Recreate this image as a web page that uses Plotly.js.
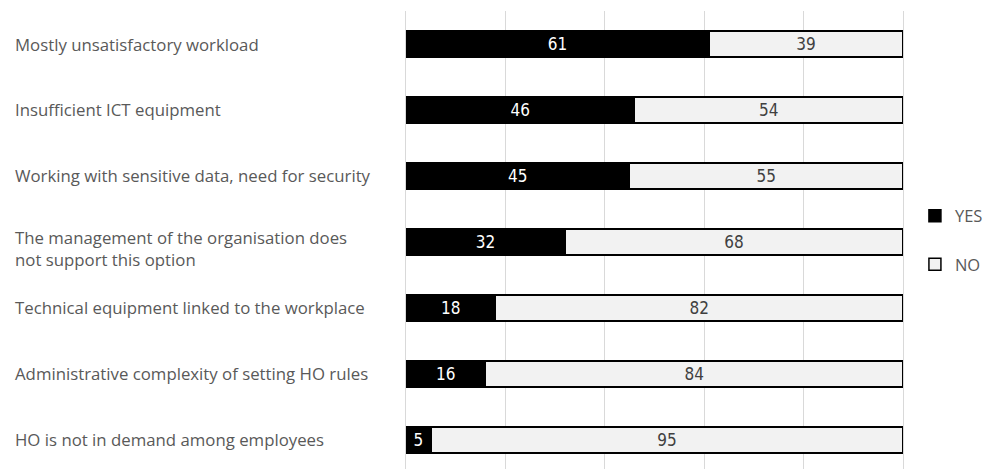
<!DOCTYPE html>
<html><head><meta charset="utf-8">
<script src="https://cdn.plot.ly/plotly-3.0.1.min.js"></script>
<style>body{margin:0;background:#fff}#c{width:988px;height:469px}</style>
</head><body><div id="c"></div>
<script>
const categories = [
  "Mostly unsatisfactory workload",
  "Insufficient ICT equipment",
  "Working with sensitive data, need for security",
  "The management of the organisation does<br>not support this option",
  "Technical equipment linked to the workplace",
  "Administrative complexity of setting HO rules",
  "HO is not in demand among employees"
];
const yesValues = [61, 46, 45, 32, 18, 16, 5];
const noValues = [39, 54, 55, 68, 82, 84, 95];
const seriesNames = ["YES", "NO"];

const barFont = "'DejaVu Sans Condensed','Roboto',sans-serif";
const labelFont = "'Open Sans','Noto Sans',sans-serif";

const traces = [
  {type:'bar', orientation:'h', name:seriesNames[0], y:categories, x:yesValues,
   text:yesValues.map(String), textposition:'inside', insidetextanchor:'middle',
   constraintext:'none', textfont:{color:'#ffffff', size:17, family:barFont},
   marker:{color:'#000000', line:{color:'#000000', width:1.5}},
   legendgroup:'a', hoverinfo:'none'},
  {type:'bar', orientation:'h', name:seriesNames[1], y:categories, x:noValues,
   text:noValues.map(String), textposition:'inside', insidetextanchor:'middle',
   constraintext:'none', textfont:{color:'#404040', size:17, family:barFont},
   marker:{color:'#f2f2f2', line:{color:'#000000', width:1.5}},
   legendgroup:'b', hoverinfo:'none'}
];

const annotations = categories.map(c => ({
  xref:'paper', yref:'y', x:-0.79, y:c, xanchor:'left', yanchor:'middle',
  yshift: c.indexOf('<br>') >= 0 ? -7 : 0,
  text:c, showarrow:false, align:'left',
  font:{family:labelFont, size:16.8, color:'#595959'}
}));

const layout = {
  width:988, height:469,
  margin:{l:406, r:83, t:11, b:0},
  paper_bgcolor:'#ffffff', plot_bgcolor:'#ffffff',
  barmode:'stack', bargap:0.6,
  xaxis:{range:[0,100], dtick:20, showgrid:true, gridcolor:'#d9d9d9', gridwidth:1,
         showticklabels:false, zeroline:false, showline:false, fixedrange:true},
  yaxis:{type:'category', range:[6.44,-0.5], showticklabels:false, showgrid:false,
         zeroline:false, showline:true, mirror:true, linecolor:'#d9d9d9', linewidth:1},
  showlegend:true,
  legend:{x:1.024, xanchor:'left', y:0.5, yanchor:'middle', tracegroupgap:24,
          traceorder:'grouped', itemwidth:30,
          font:{family:labelFont, size:16.5, color:'#595959'}, bgcolor:'rgba(0,0,0,0)'},
  annotations:annotations
};

Plotly.newPlot('c', traces, layout, {displayModeBar:false, staticPlot:true});
</script></body></html>
